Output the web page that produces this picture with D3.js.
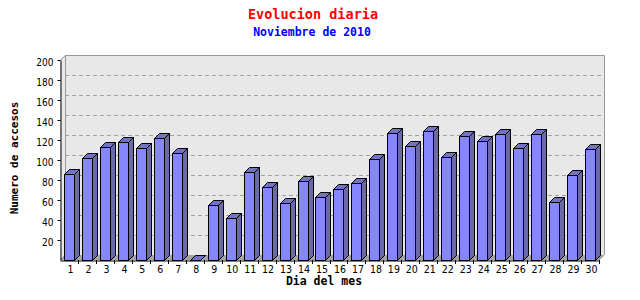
<!DOCTYPE html>
<html>
<head>
<meta charset="utf-8">
<script src="https://cdn.jsdelivr.net/npm/d3@7"></script>
<style>
  body { margin: 0; background: #fff; }
  svg { display: block; }
</style>
</head>
<body>
<div id="chart"></div>
<script>
const days = d3.range(1, 31).map(String);
const accesos = [86, 102, 113, 118, 112, 122, 107, 0, 55, 42,
                 88, 73, 57, 79, 63, 71, 77, 101, 127, 114,
                 129, 103, 124, 119, 126, 112, 126, 58, 85, 111];
const yTicks = [20, 40, 60, 80, 100, 120, 140, 160, 180, 200];

const W = 640, H = 300;
const pLeft = 60, pRight = 599, pTop = 60, pBottom = 260;
const depth = 5;

const svg = d3.select('#chart').append('svg')
  .attr('width', W).attr('height', H);

const x = d3.scaleBand()
  .domain(days)
  .range([pLeft, pRight])
  .paddingInner(0.44)
  .paddingOuter(0.22);

const y = d3.scaleLinear()
  .domain([0, 200])
  .range([pBottom, pTop]);

// plot area (back wall + floor)
svg.append('polygon')
  .attr('points', [[pLeft, pTop], [pLeft + depth, pTop - depth], [pRight + depth, pTop - depth],
    [pRight + depth, pBottom - depth], [pRight, pBottom], [pLeft, pBottom]].join(' '))
  .attr('fill', '#e8e8e8');

svg.append('polygon')
  .attr('points', [[pLeft, pBottom], [pLeft + depth, pBottom - depth],
    [pRight + depth, pBottom - depth], [pRight, pBottom]].join(' '))
  .attr('fill', '#a4a4a4');

// grid lines on the back wall
svg.append('g').selectAll('line')
  .data(yTicks.filter(d => d < 200))
  .enter().append('line')
  .attr('x1', pLeft + depth).attr('x2', pRight + depth)
  .attr('y1', d => y(d) - depth + 0.5).attr('y2', d => y(d) - depth + 0.5)
  .attr('stroke', '#a0a0a0')
  .attr('stroke-dasharray', '4,3');

// wall edges
svg.append('path')
  .attr('d', `M${pLeft + 0.5},${pTop}L${pLeft + depth + 0.5},${pTop - depth + 0.5}` +
    `H${pRight + depth + 0.5}V${pBottom - depth}L${pRight},${pBottom}` +
    `M${pLeft + depth + 0.5},${pTop - depth}V${pBottom - depth}L${pLeft},${pBottom}`)
  .attr('fill', 'none')
  .attr('stroke', '#999');

// bars
const bars = svg.append('g').selectAll('g')
  .data(accesos)
  .enter().append('g');

const bx = (d, i) => Math.round(x(days[i])) + 0.5;
const bw = Math.round(x.bandwidth());
const by = d => Math.round(y(d)) + 0.5;

bars.append('polygon')
  .attr('points', (d, i) => {
    const x0 = bx(d, i) + bw, y0 = by(d), yb = pBottom + 0.5;
    return [[x0, y0], [x0 + depth, y0 - depth], [x0 + depth, yb - depth], [x0, yb]].join(' ');
  })
  .attr('fill', '#6a6aa6')
  .attr('stroke', '#000');

bars.append('polygon')
  .attr('points', (d, i) => {
    const x0 = bx(d, i), y0 = by(d);
    return [[x0, y0], [x0 + depth, y0 - depth], [x0 + bw + depth, y0 - depth], [x0 + bw, y0]].join(' ');
  })
  .attr('fill', '#7373c6')
  .attr('stroke', '#000');

bars.append('rect')
  .attr('x', (d, i) => bx(d, i))
  .attr('y', d => by(d))
  .attr('width', bw)
  .attr('height', d => pBottom + 0.5 - by(d))
  .attr('fill', '#8686ff')
  .attr('stroke', '#000');

// y axis
const yAxis = svg.append('g')
  .attr('transform', `translate(${pLeft + 0.5},0)`)
  .call(d3.axisLeft(y).tickValues(yTicks).tickSize(3).tickSizeOuter(0).tickPadding(4));
yAxis.select('.domain').attr('stroke', '#000');
yAxis.selectAll('.tick line').attr('stroke', '#000');
yAxis.selectAll('.tick text')
  .attr('dy', '0.55em')
  .attr('fill', '#000')
  .style('font-family', '"DejaVu Sans Condensed", "Liberation Sans Narrow", sans-serif')
  .style('font-size', '10px');

// x axis
const xAxis = svg.append('g')
  .attr('transform', `translate(0,${pBottom + 0.5})`)
  .call(d3.axisBottom(x).tickSize(0).tickPadding(5));
xAxis.select('.domain').attr('stroke', '#000');
xAxis.selectAll('.tick text')
  .attr('dx', '1.5')
  .attr('fill', '#000')
  .style('font-family', '"DejaVu Sans Condensed", "Liberation Sans Narrow", sans-serif')
  .style('font-size', '10.5px');

svg.append('g').selectAll('line')
  .data(days.slice(1).concat(['end']))
  .enter().append('line')
  .attr('x1', (d, i) => Math.round(pLeft + x.step() * (i + 1)) + 0.5)
  .attr('x2', (d, i) => Math.round(pLeft + x.step() * (i + 1)) + 0.5)
  .attr('y1', pBottom).attr('y2', pBottom + 4)
  .attr('stroke', '#000');

// titles
svg.append('text')
  .attr('x', 313).attr('y', 19)
  .attr('text-anchor', 'middle')
  .attr('fill', '#ff0000')
  .style('font-family', '"DejaVu Sans Mono", monospace')
  .style('font-weight', 'bold')
  .style('font-size', '13.5px')
  .text('Evolucion diaria');

svg.append('text')
  .attr('x', 312).attr('y', 36)
  .attr('text-anchor', 'middle')
  .attr('fill', '#0000ff')
  .style('font-family', '"DejaVu Sans Mono", monospace')
  .style('font-weight', 'bold')
  .style('font-size', '11.5px')
  .text('Noviembre de 2010');

svg.append('text')
  .attr('x', 324).attr('y', 285)
  .attr('text-anchor', 'middle')
  .attr('fill', '#000')
  .style('font-family', '"DejaVu Sans Mono", monospace')
  .style('font-weight', 'bold')
  .style('font-size', '11.5px')
  .text('Dia del mes');

svg.append('text')
  .attr('transform', 'translate(18,158) rotate(-90)')
  .attr('text-anchor', 'middle')
  .attr('fill', '#000')
  .style('font-family', '"DejaVu Sans Mono", monospace')
  .style('font-weight', 'bold')
  .style('font-size', '11px')
  .text('Numero de accesos');
</script>
</body>
</html>
